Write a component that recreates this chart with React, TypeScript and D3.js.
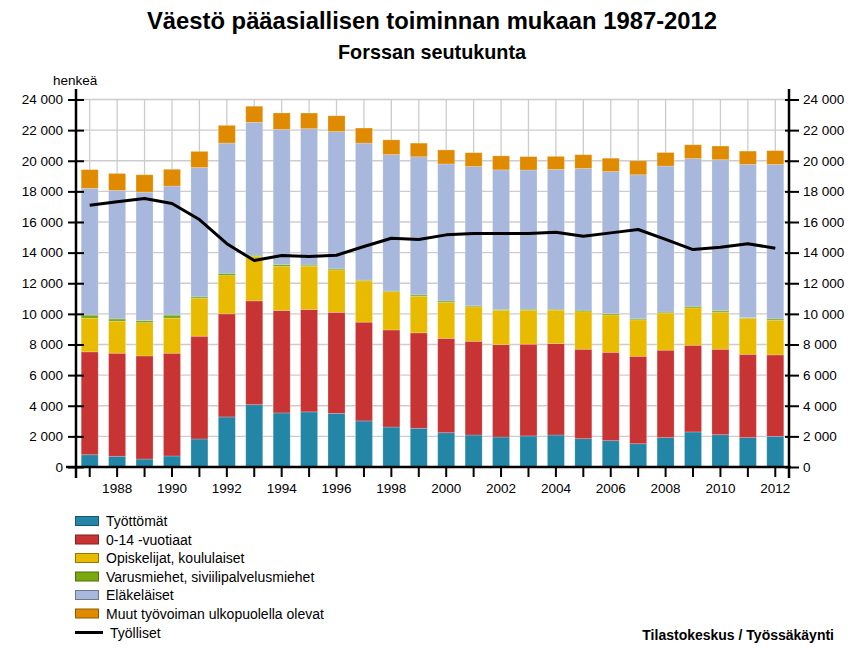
import * as d3 from 'd3';
import { useEffect, useRef } from 'react';

const years = d3.range(1987, 2013);

// pinotut sarjat (henkeä)
const tyottomat = [800, 700, 520, 720, 1830, 3270, 4070, 3530, 3600, 3500, 3010, 2610, 2530, 2240, 2090, 1960, 2030, 2090, 1850, 1720, 1520, 1920, 2290, 2110, 1920, 2000];
const lapset = [6720, 6730, 6735, 6710, 6710, 6730, 6780, 6690, 6690, 6600, 6450, 6340, 6230, 6160, 6120, 6030, 5990, 5970, 5840, 5770, 5710, 5710, 5660, 5580, 5440, 5320];
const opiskelijat = [2200, 2090, 2175, 2290, 2480, 2500, 2900, 2880, 2830, 2770, 2700, 2500, 2390, 2350, 2250, 2240, 2220, 2180, 2450, 2440, 2380, 2420, 2440, 2420, 2350, 2260];
const varusmiehet = [200, 150, 130, 200, 90, 150, 80, 130, 65, 65, 45, 45, 90, 90, 65, 65, 65, 65, 100, 85, 65, 65, 105, 90, 50, 90];
const elakelaiset = [8280, 8390, 8390, 8430, 8450, 8500, 8680, 8820, 8910, 8970, 8950, 8910, 9020, 8950, 9100, 9110, 9090, 9130, 9260, 9280, 9410, 9540, 9650, 9870, 10000, 10090];
const muut = [1220, 1110, 1135, 1090, 1050, 1160, 1050, 1070, 1020, 1030, 980, 960, 890, 915, 900, 915, 875, 850, 895, 870, 910, 880, 900, 890, 870, 900];
const tyolliset = [17100, 17320, 17530, 17210, 16160, 14580, 13480, 13810, 13750, 13830, 14400, 14940, 14860, 15160, 15250, 15250, 15250, 15330, 15070, 15290, 15510, 14860, 14200, 14350, 14580, 14290];

const seriesNames = [
  'Työttömät',
  '0-14 -vuotiaat',
  'Opiskelijat, koululaiset',
  'Varusmiehet, siviilipalvelusmiehet',
  'Eläkeläiset',
  'Muut työvoiman ulkopuolella olevat',
];
const seriesValues = [tyottomat, lapset, opiskelijat, varusmiehet, elakelaiset, muut];
const seriesColors = ['#2386a6', '#c83434', '#e8ba00', '#7aa80e', '#a7b8dc', '#e08a00'];
const lineName = 'Työlliset';
const yTicks = d3.range(0, 24001, 2000);

const App = () => {
  const svgRef = useRef<SVGSVGElement>(null);

  useEffect(() => {
    const width = 865;
    const height = 648;
    const left = 76;
    const right = 789;
    const bottom = 467;
    const top = 99.5;
    const font = 'Arial, "Liberation Sans", sans-serif';

    const svg = d3.select(svgRef.current);
    svg.selectAll('*').remove();

    const x = d3.scaleBand<number>().domain(years).range([left, right]).paddingInner(0.38).paddingOuter(0.19);
    const y = d3.scaleLinear().domain([0, 24000]).range([bottom, top]);
    const cx = (d: number) => (x(d) as number) + x.bandwidth() / 2;

    // otsikot
    svg.append('text')
      .attr('x', 432).attr('y', 29)
      .attr('text-anchor', 'middle')
      .attr('font-family', font).attr('font-weight', 'bold').attr('font-size', 23.8)
      .text('Väestö pääasiallisen toiminnan mukaan 1987-2012');
    svg.append('text')
      .attr('x', 432).attr('y', 59)
      .attr('text-anchor', 'middle')
      .attr('font-family', font).attr('font-weight', 'bold').attr('font-size', 19.8)
      .text('Forssan seutukunta');
    svg.append('text')
      .attr('x', 53).attr('y', 85)
      .attr('font-family', font).attr('font-size', 13.5)
      .text('henkeä');

    // ruudukko
    const grid = svg.append('g').attr('stroke', '#cccccc').attr('stroke-width', 1.3);
    grid.selectAll('line.h').data(yTicks.slice(1)).join('line')
      .attr('x1', left).attr('x2', right)
      .attr('y1', (d) => y(d)).attr('y2', (d) => y(d));
    grid.selectAll('line.v').data(years).join('line')
      .attr('x1', (d) => cx(d)).attr('x2', (d) => cx(d))
      .attr('y1', top).attr('y2', bottom);

    // pinotut pylväät
    const table = years.map((yr, i) => {
      const row: Record<string, number> = { year: yr };
      seriesNames.forEach((n, k) => (row[n] = seriesValues[k][i]));
      return row;
    });
    const stacked = d3.stack<Record<string, number>>().keys(seriesNames)(table);
    svg.append('g')
      .selectAll('g')
      .data(stacked)
      .join('g')
      .attr('fill', (_, k) => seriesColors[k])
      .selectAll('rect')
      .data((s) => s)
      .join('rect')
      .attr('x', (d) => x(d.data.year) as number)
      .attr('width', x.bandwidth())
      .attr('y', (d) => y(d[1]))
      .attr('height', (d) => y(d[0]) - y(d[1]))
      .attr('stroke', 'rgba(255,255,255,0.25)')
      .attr('stroke-width', 0.8);

    // työlliset-viiva
    const line = d3.line<number>()
      .x((_, i) => cx(years[i]))
      .y((d) => y(d));
    svg.append('path')
      .attr('fill', 'none')
      .attr('stroke', '#000')
      .attr('stroke-width', 3)
      .attr('stroke-linejoin', 'round')
      .attr('d', line(tyolliset));

    // akselit
    const styleAxis = (g: d3.Selection<SVGGElement, unknown, null, undefined>) => {
      g.selectAll('.domain').remove();
      g.selectAll('.tick line').attr('stroke', '#000').attr('stroke-width', 2);
      g.selectAll('.tick text').attr('font-family', font).attr('font-size', 13.5).attr('fill', '#000');
    };
    const fmt = (d: number) => d3.format(',')(d).replace(/,/g, ' ');

    svg.append('g')
      .attr('transform', `translate(${left},0)`)
      .call(d3.axisLeft(y).tickValues(yTicks).tickFormat((d) => fmt(+d)).tickSize(8).tickPadding(5))
      .call(styleAxis)
      .call((g) => g.selectAll('.tick line').attr('x2', 8).attr('x1', -8));
    svg.append('g')
      .attr('transform', `translate(${right},0)`)
      .call(d3.axisRight(y).tickValues(yTicks).tickFormat((d) => fmt(+d)).tickSize(10).tickPadding(4))
      .call(styleAxis)
      .call((g) => g.selectAll('.tick line').attr('x1', -4).attr('x2', 10));
    svg.append('g')
      .attr('transform', `translate(0,${bottom})`)
      .call(d3.axisBottom(x).tickSize(10).tickPadding(6).tickFormat((d) => (+d % 2 === 0 ? String(d) : '')))
      .call(styleAxis);

    svg.append('line')
      .attr('x1', 66).attr('x2', right + 2)
      .attr('y1', bottom).attr('y2', bottom)
      .attr('stroke', '#000').attr('stroke-width', 2.5);
    [left, right].forEach((ax) => {
      svg.append('line')
        .attr('x1', ax).attr('x2', ax)
        .attr('y1', 89).attr('y2', 478)
        .attr('stroke', '#000').attr('stroke-width', 2.5);
    });

    // selite
    const legend = svg.append('g').attr('transform', 'translate(75,521)');
    seriesNames.forEach((n, k) => {
      const row = legend.append('g').attr('transform', `translate(0,${k * 18.5})`);
      row.append('rect')
        .attr('x', 0.5).attr('y', -4.5).attr('width', 23).attr('height', 9)
        .attr('fill', seriesColors[k])
        .attr('stroke', d3.color(seriesColors[k])!.darker(1.2).toString());
      row.append('text')
        .attr('x', 31).attr('y', 5)
        .attr('font-family', font).attr('font-size', 14)
        .text(n);
    });
    const lr = legend.append('g').attr('transform', `translate(0,${6 * 18.5 + 0.5})`);
    lr.append('line').attr('x1', 0).attr('x2', 28).attr('stroke', '#000').attr('stroke-width', 3);
    lr.append('text')
      .attr('x', 35).attr('y', 5)
      .attr('font-family', font).attr('font-size', 14)
      .text(lineName);

    svg.append('text')
      .attr('x', 834).attr('y', 640)
      .attr('text-anchor', 'end')
      .attr('font-family', font).attr('font-weight', 'bold').attr('font-size', 14)
      .text('Tilastokeskus / Työssäkäynti');

    svg.attr('width', width).attr('height', height);
  }, []);

  return (
    <svg
      ref={svgRef}
      width={865}
      height={648}
      style={{ position: 'absolute', left: 0, top: 0, background: '#fff' }}
    />
  );
};

export default App;
